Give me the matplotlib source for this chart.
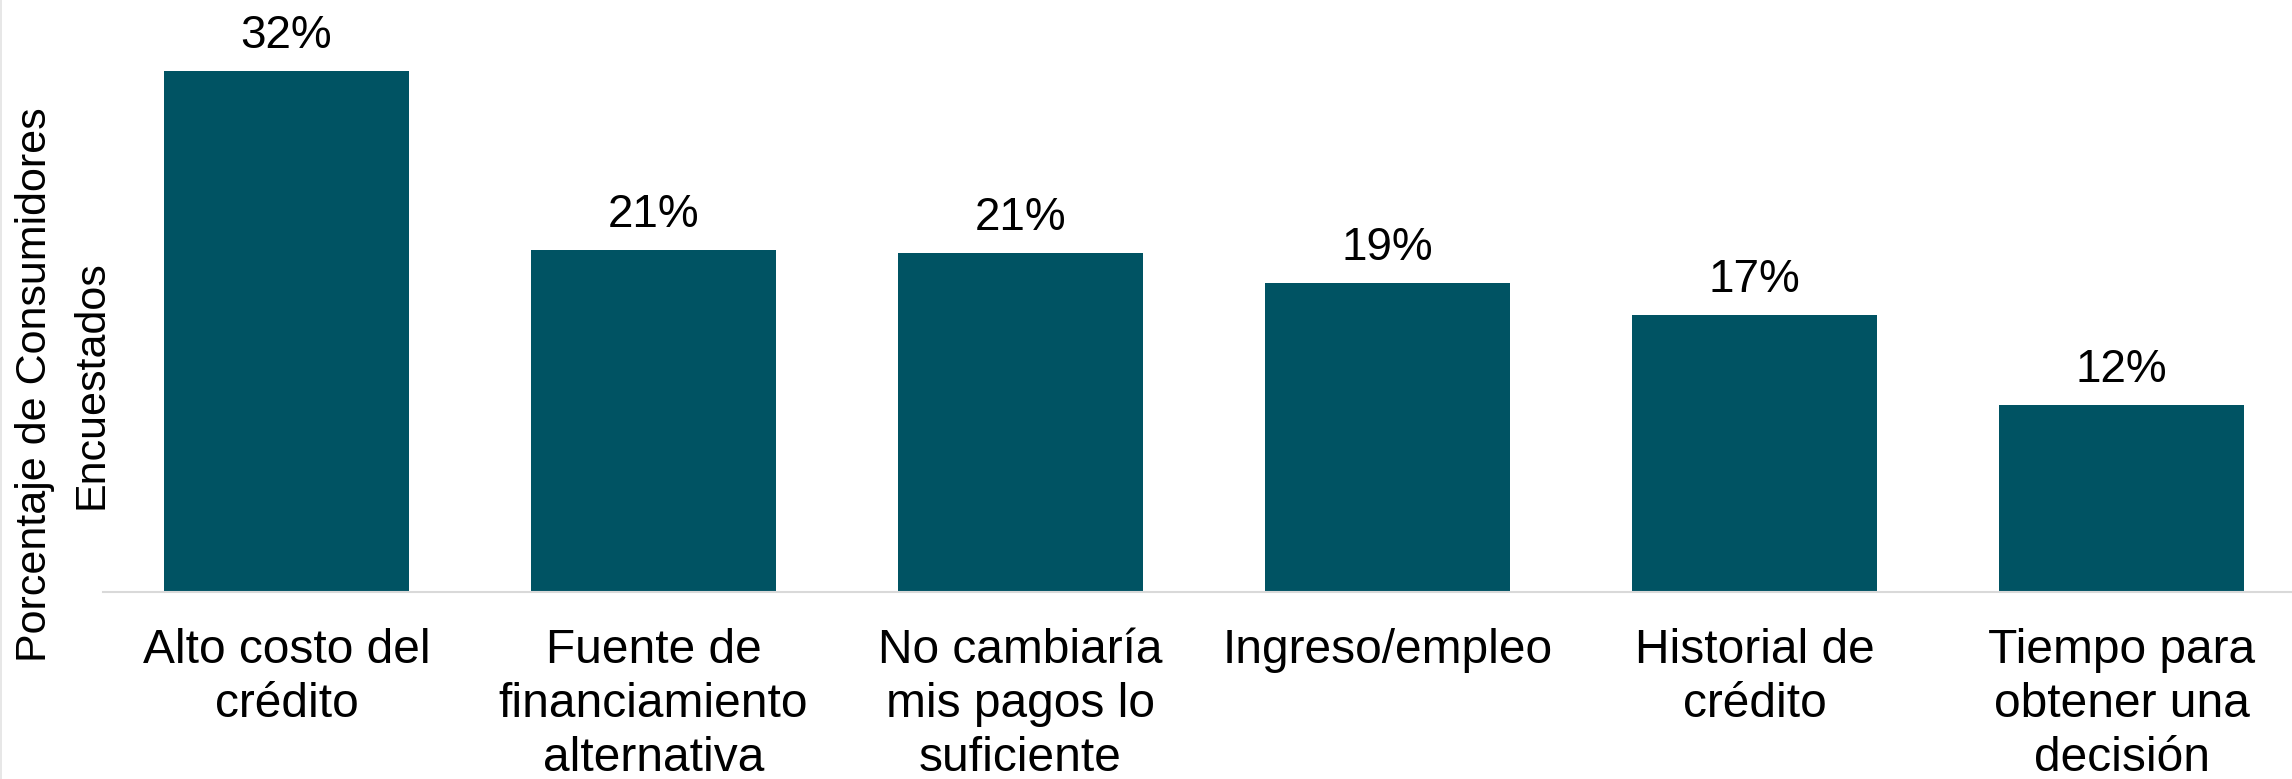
import matplotlib
matplotlib.use("Agg")
import matplotlib.pyplot as plt
from matplotlib.lines import Line2D

plt.rcParams['font.family'] = ['Liberation Sans', 'DejaVu Sans']

# Data
categories = [
    "Alto costo del\ncrédito",
    "Fuente de\nfinanciamiento\nalternativa",
    "No cambiaría\nmis pagos lo\nsuficiente",
    "Ingreso/empleo",
    "Historial de\ncrédito",
    "Tiempo para\nobtener una\ndecisión",
]
values = [32.0, 21.0, 20.8, 19.0, 17.0, 11.5]
value_labels = ["32%", "21%", "21%", "19%", "17%", "12%"]
ylabel_lines = ["Porcentaje de Consumidores", "Encuestados"]

bar_color = '#005363'
W, H = 2292, 779

fig = plt.figure(figsize=(W / 100, H / 100), dpi=100)
ax = fig.add_axes([103 / W, 1 - 592 / H, 2202 / W, 0.7106])

x = list(range(len(categories)))
bars = ax.bar(x, values, width=0.665, color=bar_color)

for b, lab in zip(bars, value_labels):
    ax.annotate(lab, (b.get_x() + b.get_width() / 2, b.get_height()),
                xytext=(0, 16.5), textcoords='offset points',
                ha='center', va='baseline', fontsize=33, color='black',
                annotation_clip=False)

ax.set_xlim(-0.5, 5.5)
ax.set_ylim(0, 34)
ax.set_xticks(x)
ax.set_xticklabels(categories, fontsize=34.5, linespacing=1.26)
ax.tick_params(axis='x', length=0, pad=26)
ax.set_yticks([])

for s in ['top', 'right', 'left']:
    ax.spines[s].set_visible(False)
ax.spines['bottom'].set_color('#d9d9d9')
ax.spines['bottom'].set_linewidth(1.5)

# y label as two rotated lines, baselines placed separately
for line, bx in zip(ylabel_lines, [46, 102]):
    fig.text(bx / W, 1 - 384.5 / H, line, rotation=90, rotation_mode='anchor',
             ha='center', va='baseline', fontsize=31)

# faint frame line on the left edge
fig.add_artist(Line2D([0.0005, 0.0005], [0, 1], color='#e3e3e3', lw=1.2,
                      transform=fig.transFigure))

fig.savefig('out.png', dpi=100)
